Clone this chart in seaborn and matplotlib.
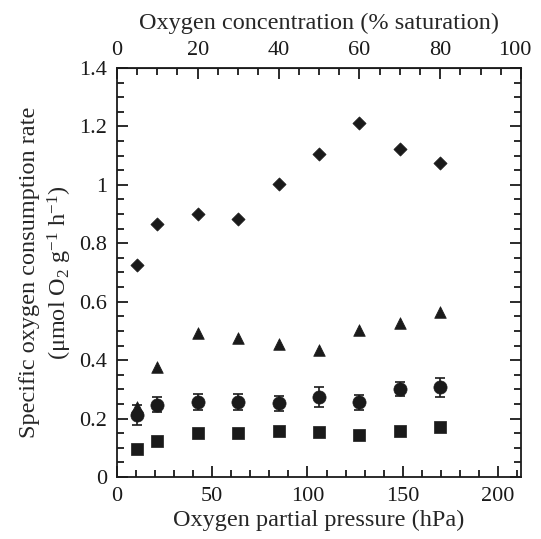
import matplotlib
matplotlib.use('Agg')
import matplotlib.pyplot as plt
import matplotlib.transforms as mtransforms
import pandas as pd
import seaborn as sns
from matplotlib.ticker import MultipleLocator

# Oxygen partial pressure (hPa); 100 % saturation = 212 hPa
pressure = [10.6, 21.2, 42.4, 63.6, 84.8, 106.0, 127.2, 148.4, 169.6]

diamond = [0.726, 0.865, 0.900, 0.882, 1.002, 1.107, 1.210, 1.123, 1.073]
triangle = [0.241, 0.376, 0.494, 0.476, 0.455, 0.433, 0.503, 0.526, 0.563]
circle = [0.212, 0.247, 0.256, 0.256, 0.252, 0.275, 0.256, 0.301, 0.307]
circle_err = [0.034, 0.026, 0.027, 0.027, 0.026, 0.034, 0.026, 0.024, 0.032]
square = [0.096, 0.123, 0.152, 0.150, 0.158, 0.153, 0.144, 0.158, 0.172]
square_err = [0.008, 0.015, 0.008, 0.010, 0.010, 0.008, 0.015, 0.010, 0.008]

top_ticks = [0, 20, 40, 60, 80, 100]

SATURATION_HPA = 212.0
TICK_FS = 16
LABEL_FS = 17.5

sns.set_style('ticks')
plt.rcParams['font.family'] = ['Liberation Serif', 'DejaVu Serif']
plt.rcParams['mathtext.fontset'] = 'custom'
plt.rcParams['mathtext.rm'] = 'Liberation Serif'
plt.rcParams['mathtext.it'] = 'Liberation Serif:italic'

df = pd.DataFrame({
    'pressure': pressure * 4,
    'rate': diamond + triangle + circle + square,
    'group': ['d'] * 9 + ['t'] * 9 + ['c'] * 9 + ['s'] * 9,
})

fig = plt.figure(figsize=(5.41, 5.39), dpi=100)
ax = fig.add_axes([0.216, 0.115, 0.747, 0.759])

# error bars first so markers sit on top
ax.errorbar(pressure, circle, yerr=circle_err, fmt='none', ecolor='#1a1a1a',
            elinewidth=1.2, capsize=3.5, capthick=1.2, zorder=2)
ax.errorbar(pressure, square, yerr=square_err, fmt='none', ecolor='#1a1a1a',
            elinewidth=1.2, capsize=3.5, capthick=1.2, zorder=2)

sizes = {'d': 45, 't': 70, 'c': 90, 's': 80}
markers = {'d': 'D', 't': '^', 'c': 'o', 's': 's'}
for g in ['d', 't', 'c', 's']:
    sub = df[df['group'] == g]
    sns.scatterplot(data=sub, x='pressure', y='rate', marker=markers[g], s=sizes[g],
                    color='#1a1a1a', edgecolor='#1a1a1a', linewidth=0.5, ax=ax, zorder=3,
                    legend=False)

ax.set_xlim(0, SATURATION_HPA)
ax.set_ylim(0, 1.4)
ax.xaxis.set_major_locator(MultipleLocator(50))
ax.xaxis.set_minor_locator(MultipleLocator(10))
ax.yaxis.set_minor_locator(MultipleLocator(0.05))
ax.set_yticks([0, 0.2, 0.4, 0.6, 0.8, 1.0, 1.2, 1.4])
ax.set_yticklabels(['0', '0.2', '0.4', '0.6', '0.8', '1', '1.2', '1.4'])

for side in ['top', 'right', 'left', 'bottom']:
    ax.spines[side].set_visible(True)
    ax.spines[side].set_linewidth(1.3)
    ax.spines[side].set_color('#1a1a1a')

ax.tick_params(which='both', direction='in', right=True, colors='#1a1a1a',
               labelsize=TICK_FS, width=1.3)
ax.tick_params(which='major', length=8)
ax.tick_params(which='minor', length=5)
ax.tick_params(axis='both', which='both', pad=7)

ax.set_xlabel('Oxygen partial pressure (hPa)', fontsize=LABEL_FS, labelpad=3)
ax.set_ylabel('Specific oxygen consumption rate\n(μmol O$_2$ g$^{-1}$ h$^{-1}$)',
              fontsize=LABEL_FS, labelpad=4, linespacing=1.25)

top = ax.secondary_xaxis('top', functions=(lambda p: p / SATURATION_HPA * 100,
                                           lambda s: s * SATURATION_HPA / 100))
top.set_xticks(top_ticks)
top.xaxis.set_minor_locator(MultipleLocator(5))
top.tick_params(which='both', direction='in', labelsize=TICK_FS, width=1.3,
                colors='#1a1a1a', pad=6)
top.tick_params(which='major', length=8)
top.tick_params(which='minor', length=5)
top.set_xlabel('Oxygen concentration (% saturation)', fontsize=LABEL_FS, labelpad=8)

# nudge the "100" label left so it stays inside the figure, as in the original
fig.canvas.draw()
last = top.xaxis.get_major_ticks()[-1]
shift = mtransforms.ScaledTranslation(-6 / 100, 0, fig.dpi_scale_trans)
for lab in (last.label1, last.label2):
    lab.set_transform(lab.get_transform() + shift)

fig.savefig('out.png', dpi=100)
